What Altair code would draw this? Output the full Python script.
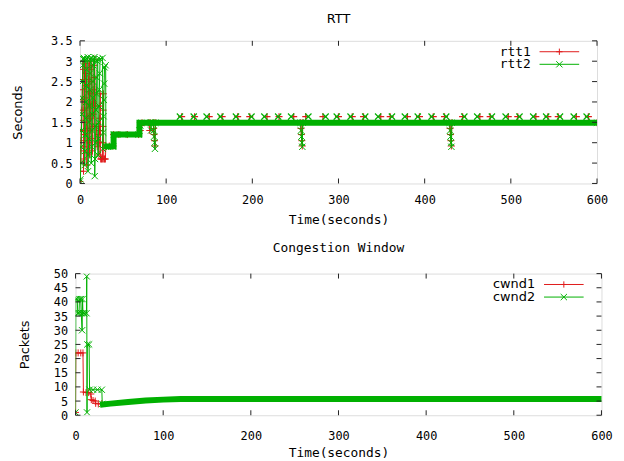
import altair as alt
import pandas as pd

RED = "#e01a1a"
GREEN = "#00b000"
MONO = "DejaVu Sans Mono"
SANS = "DejaVu Sans"
PLUS = "M-1,0L1,0M0,-1L0,1"
CROSS = "M-1,-1L1,1M-1,1L1,-1"

# ---------------- RTT data (seconds) ----------------
rtt_names = ["rtt1", "rtt2"]
rtt1_t = [0.0, 0.4, 0.7, 1.0, 1.3, 1.6, 1.9, 2.2, 2.5, 2.8, 3.1, 3.4, 3.7,
          4.1, 4.4, 4.7, 5.0, 5.3, 5.6, 5.9, 6.2, 6.5, 6.8, 7.5,
          8.0, 8.3, 8.6, 8.9, 9.2, 9.5, 9.8, 10.1, 10.4, 10.8,
          11.2, 11.5, 11.8, 12.1, 12.4, 12.7, 13.0, 13.3, 13.8,
          14.5, 14.8, 15.1, 15.4, 15.7, 16.0, 16.3, 16.6, 17.0,
          18.0, 19.0, 20.0, 21.0, 22.0, 22.3, 22.6, 22.9, 23.2, 23.5,
          24.0, 25.0, 26.0, 26.3, 26.6, 26.9, 27.2, 27.6, 28.5, 29.5,
          30.0, 34.0, 38.5, 39.0, 45.0, 55.0, 68.0, 70.0, 71.0, 72.0,
          80.0, 81.0, 81.5, 85.0, 85.5, 86.0, 86.5, 87.0, 87.5,
          256.0, 256.5, 257.0, 257.5, 258.0, 258.5,
          429.0, 429.5, 430.0, 430.5, 431.0, 431.5, 600.0]
rtt1_v = [0.05, 0.3, 0.55, 0.8, 1.05, 1.3, 1.55, 1.8, 2.05, 2.3, 2.55, 2.8, 3.0,
          0.3, 0.6, 0.9, 1.2, 1.5, 1.8, 2.1, 2.4, 2.7, 2.95, 1.85,
          0.45, 0.75, 1.05, 1.35, 1.65, 1.95, 2.25, 2.55, 2.85, 3.0,
          0.7, 1.0, 1.3, 1.6, 1.9, 2.2, 2.5, 2.8, 2.9,
          0.8, 1.1, 1.4, 1.7, 2.0, 2.3, 2.6, 2.9, 3.05,
          1.9, 1.4, 0.9, 1.2, 0.7, 1.0, 1.3, 1.6, 1.9, 2.2,
          0.6, 0.6, 0.6, 1.0, 1.4, 1.8, 2.2, 0.6, 0.6, 0.6,
          0.92, 0.92, 0.92, 1.2, 1.2, 1.2, 1.2, 1.3, 1.42, 1.49,
          1.49, 1.3, 1.49, 1.49, 1.35, 1.2, 1.05, 0.92, 1.49,
          1.49, 1.35, 1.2, 1.05, 0.92, 1.49,
          1.49, 1.35, 1.2, 1.05, 0.92, 1.49, 1.49]

rtt2_t = [0.0, 0.5, 0.9, 1.3, 1.7, 2.1, 2.5, 2.9, 3.3, 3.6, 4.5, 5.2,
          5.5, 5.9, 6.3, 6.7, 7.1, 7.5, 7.9, 8.3, 9.0,
          9.3, 9.7, 10.1, 10.5, 10.9, 11.3, 11.7, 12.1, 12.9,
          13.1, 13.5, 13.9, 14.3, 14.7, 15.1, 15.5, 15.9, 16.8,
          17.1, 17.5, 17.9, 18.3, 18.7, 19.1, 19.5, 19.9, 20.6,
          20.9, 21.3, 21.7, 22.1, 22.5, 22.9, 23.3, 26.2,
          26.5, 26.9, 27.3, 27.7, 28.1, 28.5, 29.8,
          30.1, 34.0, 38.5, 39.5, 50.0, 68.0, 69.0, 70.0, 71.0,
          82.0, 82.5, 83.0, 85.0, 85.5, 86.0, 86.5, 87.0, 87.5,
          256.0, 256.5, 257.0, 257.5, 258.0, 258.5,
          429.0, 429.5, 430.0, 430.5, 431.0, 431.5, 600.0]
rtt2_v = [0.05, 0.1, 0.5, 0.9, 1.3, 1.7, 2.1, 2.5, 2.9, 3.05, 3.08, 3.05,
          0.45, 0.8, 1.2, 1.6, 2.0, 2.4, 2.8, 3.05, 3.1,
          0.3, 0.7, 1.1, 1.5, 1.9, 2.3, 2.7, 3.05, 3.08,
          0.5, 0.9, 1.3, 1.7, 2.1, 2.5, 2.9, 3.05, 3.1,
          0.18, 0.6, 1.0, 1.4, 1.8, 2.2, 2.6, 3.0, 3.05,
          0.7, 1.1, 1.5, 1.9, 2.3, 2.7, 3.05, 3.08,
          0.85, 1.25, 1.65, 2.05, 2.45, 2.85, 2.9,
          0.9, 0.9, 0.9, 1.2, 1.2, 1.2, 1.3, 1.42, 1.49,
          1.49, 1.3, 1.49, 1.49, 1.3, 1.15, 1.0, 0.85, 1.49,
          1.49, 1.3, 1.15, 1.0, 0.9, 1.49,
          1.49, 1.3, 1.15, 1.0, 0.9, 1.49, 1.49]

# thick band of fast oscillation (drawn as a wide stroke)
rtt2_band_t = [28.0, 39.0, 69.0, 600.0]
rtt2_band_v = [0.91, 1.2, 1.49, 1.49]

# isolated higher samples above the band
rtt1_peak_t = [118, 133, 150, 165, 183, 197, 217, 231, 248, 262, 282, 300, 316, 329,
               349, 360, 380, 394, 410, 423, 444, 464, 476, 497, 508, 529, 543, 555,
               576, 590]
rtt1_peak_v = [1.64] * 30
rtt2_peak_t = [116, 132, 147, 163, 181, 199, 214, 230, 245, 265, 285, 298, 314, 331,
               346, 362, 377, 392, 408, 425, 446, 461, 478, 494, 510, 526, 541, 557,
               573, 588]
rtt2_peak_v = [1.64] * 30

# ---------------- Congestion window data (packets) ----------------
cwnd_names = ["cwnd1", "cwnd2"]
cwnd1_t = [0.0, 0.3, 3.0, 6.0, 8.5, 9.0, 12.0, 15.0, 17.5, 18.0, 20.0, 22.5, 23.0, 26.0, 30.0]
cwnd1_v = [1, 22, 22, 22, 22, 8.2, 8.0, 8.0, 7.5, 5.5, 5.2, 5.0, 4.2, 4.0, 4.1]
cwnd2_t = [0.0, 0.3, 2.0, 2.5, 4.0, 4.5, 6.0, 6.5, 7.5, 8.0, 8.5, 10.0, 12.5, 12.8, 13.1,
           13.5, 15.5, 16.0, 20.0, 25.0, 30.0, 30.5]
cwnd2_v = [1, 41, 41, 36, 36, 41, 41, 36, 30, 41, 36, 36, 36, 49, 1,
           25, 25, 9, 9, 9, 9, 4]
cwnd2_band_t = [28.0, 40.0, 60.0, 80.0, 100.0, 120.0, 600.0]
cwnd2_band_v = [3.7, 4.1, 4.7, 5.2, 5.5, 5.7, 5.7]

x_ticks = [0, 100, 200, 300, 400, 500, 600]
rtt_ticks = [0, 0.5, 1, 1.5, 2, 2.5, 3, 3.5]
cwnd_ticks = [0, 5, 10, 15, 20, 25, 30, 35, 40, 45, 50]


def frame(t, v):
    return pd.DataFrame({"t": t, "v": v})


def panel(title, title_font, title_offset, ytitle, ymax, yticks, w, h, s1, s2, band,
          band_interp, peaks1, peaks2, names, legend_font, ytitle_pad, xlabel_pad,
          xtitle_pad):
    xs = alt.Scale(domain=[0, 600], nice=False, zero=False)
    ys = alt.Scale(domain=[0, ymax], nice=False, zero=False)
    xaxis = alt.Axis(values=x_ticks, title="Time(seconds)", ticks=False, domain=False,
                     grid=False, labelFont=MONO, labelFontSize=12, labelColor="black",
                     labelFlush=False, labelOverlap=False,
                     titleFont=MONO, titleFontSize=13, titleFontWeight="normal",
                     titleColor="black", labelPadding=xlabel_pad, titlePadding=xtitle_pad)
    yaxis = alt.Axis(values=yticks, title=ytitle, ticks=False, domain=False, grid=False,
                     labelFont=MONO, labelFontSize=12, labelColor="black",
                     labelFlush=False, labelOverlap=False,
                     labelExpr="'' + datum.value",
                     titleFont=SANS, titleFontSize=13, titleFontWeight="normal",
                     titleColor="black", labelPadding=8, titlePadding=ytitle_pad)

    def X():
        return alt.X("t:Q", scale=xs, axis=xaxis)

    def Y():
        return alt.Y("v:Q", scale=ys, axis=yaxis)

    layers = []
    d1 = frame(*s1)
    d2 = frame(*s2)
    layers.append(alt.Chart(d1).mark_line(color=RED, strokeWidth=1, clip=True)
                  .encode(x=X(), y=Y()))
    layers.append(alt.Chart(d1).mark_point(shape=PLUS, filled=False, color=RED, size=50,
                                           strokeWidth=1, opacity=1, clip=True)
                  .encode(x=X(), y=Y()))
    if peaks1 is not None:
        layers.append(alt.Chart(frame(*peaks1)).mark_point(shape=PLUS, filled=False, color=RED,
                                                           size=50, strokeWidth=1.2, opacity=1)
                      .encode(x=X(), y=Y()))
    layers.append(alt.Chart(frame(*band)).mark_line(color=GREEN, strokeWidth=6,
                                                   interpolate=band_interp, strokeCap="butt")
                  .encode(x=X(), y=Y()))
    layers.append(alt.Chart(d2).mark_line(color=GREEN, strokeWidth=1, clip=True)
                  .encode(x=X(), y=Y()))
    layers.append(alt.Chart(d2).mark_point(shape=CROSS, filled=False, color=GREEN, size=40,
                                           strokeWidth=1, opacity=1, clip=True)
                  .encode(x=X(), y=Y()))
    if peaks2 is not None:
        layers.append(alt.Chart(frame(*peaks2)).mark_point(shape=CROSS, filled=False,
                                                           color=GREEN, size=40,
                                                           strokeWidth=1.2, opacity=1)
                      .encode(x=X(), y=Y()))

    # inward ticks on all four sides
    xt = pd.DataFrame({"t": x_ticks})
    yt = pd.DataFrame({"v": yticks})
    tick = dict(color="#222222", strokeWidth=1)
    layers.append(alt.Chart(xt).mark_rule(**tick).encode(x=X(), y=alt.value(h), y2=alt.value(h - 5)))
    layers.append(alt.Chart(xt).mark_rule(**tick).encode(x=X(), y=alt.value(0), y2=alt.value(5)))
    layers.append(alt.Chart(yt).mark_rule(**tick).encode(y=Y(), x=alt.value(0), x2=alt.value(5)))
    layers.append(alt.Chart(yt).mark_rule(**tick).encode(y=Y(), x=alt.value(w), x2=alt.value(w - 5)))

    # legend, gnuplot style (label left, sample right)
    lx = w - 67
    for i, (name, col, shp) in enumerate([(names[0], RED, PLUS), (names[1], GREEN, CROSS)]):
        yy = 11 + 12.7 * i
        nd = pd.DataFrame({"name": [name]})
        layers.append(alt.Chart(nd).mark_text(align="right", baseline="middle", font=legend_font,
                                              fontSize=13, color="black")
                      .encode(text="name:N", x=alt.value(lx), y=alt.value(yy)))
        layers.append(alt.Chart(nd).mark_rule(color=col, strokeWidth=1)
                      .encode(x=alt.value(lx + 9), x2=alt.value(lx + 49), y=alt.value(yy)))
        layers.append(alt.Chart(nd).mark_point(shape=shp, filled=False, color=col, size=40,
                                               strokeWidth=1, opacity=1)
                      .encode(x=alt.value(lx + 29), y=alt.value(yy)))

    return alt.layer(*layers).properties(
        width=w, height=h,
        title=alt.TitleParams(title, font=title_font, fontSize=13, fontWeight="normal",
                              color="black", offset=title_offset, anchor="middle"))


top = panel("RTT", SANS, 9, "Seconds", 3.5, rtt_ticks, 522, 144,
            (rtt1_t, rtt1_v), (rtt2_t, rtt2_v), (rtt2_band_t, rtt2_band_v), "step-after",
            (rtt1_peak_t, rtt1_peak_v), (rtt2_peak_t, rtt2_peak_v),
            rtt_names, MONO, 26, 11, 8)
bottom = panel("Congestion Window", MONO, 13, "Packets", 50, cwnd_ticks, 531, 143,
               (cwnd1_t, cwnd1_v), (cwnd2_t, cwnd2_v), (cwnd2_band_t, cwnd2_band_v), "linear",
               None, None, cwnd_names, SANS, 22, 16, 5)

chart = alt.vconcat(top, bottom, spacing=14, center=True).properties(
    padding={"left": 11, "top": 10, "right": 10, "bottom": 0},
).configure_view(stroke="#222222", strokeWidth=1).configure(background="white")

chart.save("out.html", embed_options={"renderer": "svg", "actions": False})
